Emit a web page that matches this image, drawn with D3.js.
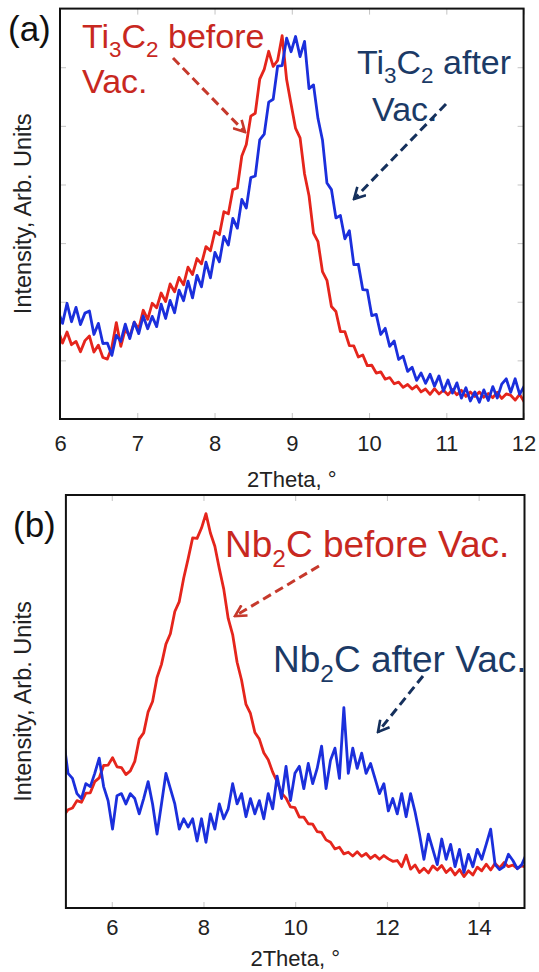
<!DOCTYPE html>
<html>
<head>
<meta charset="utf-8">
<script src="https://cdn.jsdelivr.net/npm/d3@7"></script>
<style>
  html, body { margin: 0; padding: 0; background: #fff; }
  svg { display: block; font-family: "Liberation Sans", Arial, sans-serif; }
</style>
</head>
<body>
<svg id="chart" width="539" height="972"></svg>
<script>
// (a) Ti3C2 scan, one point every 0.058 deg starting at 5.975
const thetaA = d3.range(105).map((i) => 5.975 + i * 0.058);
const ti3c2Before = [
  21.6, 18.5, 21.2, 18.1, 18.9, 16.4, 19.1, 20.2, 16.3, 18.0,
  15.0, 14.6, 17.5, 23.5, 17.7, 21.9, 20.1, 23.6, 21.9, 26.5,
  24.3, 28.2, 27.1, 30.7, 28.6, 32.9, 31.0, 34.5, 32.7, 37.0,
  35.2, 39.1, 37.8, 42.0, 41.0, 45.7, 44.9, 50.5, 50.0, 55.9,
  56.3, 64.1, 66.9, 73.8, 74.5, 82.8, 85.2, 89.6, 85.9, 87.4,
  93.4, 82.7, 76.7, 70.8, 68.5, 59.7, 54.4, 45.3, 43.2, 35.9,
  33.8, 27.4, 26.2, 21.3, 21.3, 17.9, 17.8, 15.1, 15.6, 13.0,
  13.1, 11.2, 11.5, 9.7, 10.1, 8.6, 9.0, 7.7, 8.4, 7.3,
  8.1, 6.6, 7.3, 6.0, 7.4, 6.1, 7.0, 5.9, 7.2, 5.9,
  7.0, 5.5, 6.6, 5.5, 6.6, 5.3, 6.2, 5.2, 6.5, 5.0,
  6.1, 5.8, 4.6, 6.0, 4.2,
];
const ti3c2After = [
  26.3, 23.3, 28.2, 23.7, 27.2, 23.0, 25.8, 26.3, 20.6, 23.3,
  18.4, 18.5, 15.5, 20.4, 18.9, 23.1, 19.6, 23.6, 20.8, 25.1,
  22.0, 25.0, 22.5, 28.0, 24.5, 28.9, 25.9, 31.4, 28.8, 33.6,
  29.5, 35.0, 32.2, 38.2, 34.4, 40.6, 38.3, 44.5, 42.4, 48.9,
  46.5, 53.5, 51.4, 58.8, 59.2, 68.0, 69.4, 77.2, 77.9, 86.0,
  86.1, 92.8, 89.5, 93.2, 88.3, 92.0, 80.5, 81.4, 73.2, 68.0,
  57.5, 55.9, 49.0, 49.6, 43.9, 45.9, 37.6, 37.7, 31.5, 31.4,
  25.2, 25.5, 20.6, 22.1, 17.7, 19.0, 14.5, 15.3, 11.6, 12.6,
  9.4, 11.2, 8.7, 10.9, 8.0, 10.5, 6.8, 9.5, 6.3, 8.8,
  5.1, 7.6, 4.4, 6.6, 4.1, 7.1, 4.5, 7.9, 5.1, 8.5,
  9.8, 6.5, 9.8, 6.0, 8.0,
];
const ticksA = [6, 7, 8, 9, 10, 11, 12];
const yTicksA = d3.range(1, 7).map((k) => (k * 100) / 7);

// (b) Nb2C scan, one point every 0.097 deg starting at 4.95
const thetaB = d3.range(105).map((i) => 4.95 + i * 0.097);
const nb2cBefore = [
  22.3, 23.8, 24.2, 26.0, 25.6, 27.8, 27.9, 30.6, 31.5, 34.5,
  34.6, 36.4, 34.2, 34.0, 32.3, 33.2, 35.5, 40.9, 42.4, 47.5,
  50.0, 55.8, 59.0, 63.9, 66.4, 71.8, 74.2, 79.9, 84.6, 89.6,
  89.5, 92.0, 95.5, 90.8, 87.6, 82.2, 77.2, 70.1, 66.2, 59.5,
  55.2, 49.3, 47.1, 42.5, 40.9, 37.6, 35.9, 32.9, 30.6, 27.8,
  26.6, 24.5, 24.3, 22.0, 22.0, 20.4, 20.3, 18.5, 18.3, 16.5,
  15.9, 14.3, 14.7, 13.1, 13.5, 12.6, 13.6, 12.5, 13.2, 12.0,
  12.8, 11.8, 12.7, 11.9, 11.3, 11.5, 10.0, 12.8, 9.4, 10.4,
  8.6, 9.6, 8.5, 10.2, 9.2, 10.3, 8.6, 9.6, 8.0, 9.3,
  7.6, 9.0, 8.0, 9.9, 9.0, 10.6, 9.2, 10.8, 9.7, 11.0,
  10.0, 10.4, 9.6, 10.2, 9.9,
];
const nb2cAfter = [
  40.7, 32.6, 31.4, 27.7, 26.5, 30.1, 29.4, 32.6, 36.3, 29.4,
  26.0, 19.1, 27.2, 27.7, 25.2, 27.7, 26.5, 22.8, 26.5, 30.6,
  25.2, 17.9, 25.2, 32.6, 28.9, 25.2, 19.1, 21.6, 19.6, 21.6,
  16.2, 21.6, 15.9, 22.8, 19.1, 25.2, 21.6, 24.0, 30.1, 25.2,
  27.7, 22.1, 26.5, 22.8, 26.0, 21.6, 27.7, 24.0, 31.9, 26.5,
  34.3, 26.0, 32.6, 34.3, 28.9, 35.0, 30.1, 33.8, 39.2, 28.9,
  35.8, 38.7, 31.4, 48.5, 32.6, 38.7, 33.8, 37.5, 32.6, 35.0,
  31.4, 27.7, 30.1, 23.5, 26.5, 22.8, 27.7, 22.1, 27.7, 23.3,
  17.9, 11.8, 17.9, 14.2, 10.5, 16.7, 11.8, 15.4, 10.0, 14.2,
  8.6, 13.0, 10.0, 14.2, 11.8, 15.4, 19.1, 10.5, 9.3, 10.0,
  13.0, 11.5, 9.5, 10.5, 13.0,
];
const ticksB = [6, 8, 10, 12, 14];

const RED = "#e5251c";
const BLUE = "#1b2fdc";
const RED_TEXT = "#c8281f";
const BLUE_TEXT = "#1b3a66";
const RED_ARROW = "#c6392c";
const BLUE_ARROW = "#15305c";
const TICK_GREY = "#c4c4c4";

const svg = d3.select("#chart");
const defs = svg.append("defs");

function arrowMarker(id, color) {
  defs
    .append("marker")
    .attr("id", id)
    .attr("viewBox", "0 0 14 14")
    .attr("markerUnits", "userSpaceOnUse")
    .attr("markerWidth", 14)
    .attr("markerHeight", 14)
    .attr("refX", 12)
    .attr("refY", 7)
    .attr("orient", "auto")
    .append("path")
    .attr("d", "M1,1 L12,7 L1,13")
    .attr("fill", "none")
    .attr("stroke", color)
    .attr("stroke-width", 2.6);
}
arrowMarker("head-red", RED_ARROW);
arrowMarker("head-blue", BLUE_ARROW);

// text with chemical subscripts, parts: [text, isSub]
function formula(g, x, y, parts, size, color) {
  const t = g
    .append("text")
    .attr("x", x)
    .attr("y", y)
    .attr("font-size", size)
    .attr("fill", color);
  const shift = size * 0.26;
  let offset = 0; // current baseline offset, undone on the next part
  parts.forEach(([s, sub]) => {
    const target = sub ? shift : 0;
    t.append("tspan")
      .attr("dy", target - offset)
      .attr("font-size", sub ? size * 0.66 : size)
      .text(s);
    offset = target;
  });
  return t;
}

function greyTicks(a) {
  a.select(".domain").remove();
  a.selectAll("line").attr("stroke", TICK_GREY);
}

function drawPanel(p) {
  const x = d3.scaleLinear().domain(p.xDomain).range([p.left, p.right]);
  const y = d3.scaleLinear().domain([0, 100]).range([p.bottom, p.top]);
  const g = svg.append("g");

  defs
    .append("clipPath")
    .attr("id", "clip-" + p.id)
    .append("rect")
    .attr("x", p.left)
    .attr("y", p.top)
    .attr("width", p.right - p.left)
    .attr("height", p.bottom - p.top);

  // inward ticks, light grey
  g.append("g")
    .attr("transform", `translate(0,${p.bottom})`)
    .call(
      d3.axisBottom(x)
        .tickValues(p.xTicks)
        .tickSize(-6)
        .tickPadding(p.tickPad)
        .tickFormat(d3.format("d")),
    )
    .call(greyTicks)
    .call((a) =>
      a.selectAll("text")
        .attr("font-size", 22)
        .attr("font-family", "Liberation Sans, Arial, sans-serif")
        .attr("fill", "#222"),
    );

  g.append("g")
    .attr("transform", `translate(0,${p.top})`)
    .call(d3.axisTop(x).tickValues(p.xTicks).tickSize(-6).tickFormat(""))
    .call(greyTicks);

  if (p.yTicks.length) {
    g.append("g")
      .attr("transform", `translate(${p.left},0)`)
      .call(d3.axisLeft(y).tickValues(p.yTicks).tickSize(-6).tickFormat(""))
      .call(greyTicks);
    g.append("g")
      .attr("transform", `translate(${p.right},0)`)
      .call(d3.axisRight(y).tickValues(p.yTicks).tickSize(-6).tickFormat(""))
      .call(greyTicks);
  }

  const line = d3
    .line()
    .x((d) => x(d[0]))
    .y((d) => y(d[1]));

  const plot = g.append("g").attr("clip-path", `url(#clip-${p.id})`);
  p.series.forEach((s) => {
    plot
      .append("path")
      .datum(d3.zip(p.theta, s.values))
      .attr("fill", "none")
      .attr("stroke", s.color)
      .attr("stroke-width", 2.8)
      .attr("stroke-linejoin", "round")
      .attr("d", line);
  });

  g.append("rect")
    .attr("x", p.left)
    .attr("y", p.top)
    .attr("width", p.right - p.left)
    .attr("height", p.bottom - p.top)
    .attr("fill", "none")
    .attr("stroke", "#111")
    .attr("stroke-width", 2);

  g.append("text")
    .attr("x", (p.left + p.right) / 2)
    .attr("y", p.titleY)
    .attr("text-anchor", "middle")
    .attr("font-size", 22)
    .attr("fill", "#222")
    .text("2Theta, \u00b0");

  g.append("text")
    .attr("transform", `translate(31,${(p.top + p.bottom) / 2}) rotate(-90)`)
    .attr("text-anchor", "middle")
    .attr("font-size", 23.5)
    .attr("fill", "#222")
    .text("Intensity, Arb. Units");

  g.append("text")
    .attr("x", p.tag.x)
    .attr("y", p.tag.y)
    .attr("font-size", 35)
    .attr("fill", "#111")
    .text(p.tag.text);

  p.notes.forEach((n) => formula(g, n.x, n.y, n.parts, p.noteSize, n.color));

  p.arrows.forEach((a) => {
    g.append("line")
      .attr("x1", a.from[0])
      .attr("y1", a.from[1])
      .attr("x2", a.to[0])
      .attr("y2", a.to[1])
      .attr("stroke", a.color)
      .attr("stroke-width", 3)
      .attr("stroke-dasharray", "9,5")
      .attr("marker-end", `url(#${a.head})`);
  });
}

drawPanel({
  id: "a",
  left: 60, right: 523.6, top: 8.6, bottom: 419,
  xDomain: [6, 12], xTicks: ticksA, yTicks: yTicksA,
  tickPad: 16, titleY: 487,
  theta: thetaA,
  series: [
    { values: ti3c2Before, color: RED },
    { values: ti3c2After, color: BLUE },
  ],
  tag: { text: "(a)", x: 8, y: 41 },
  noteSize: 34,
  notes: [
    { x: 82, y: 48, color: RED_TEXT, parts: [["Ti"], ["3", true], ["C"], ["2", true], [" before"]] },
    { x: 82, y: 93, color: RED_TEXT, parts: [["Vac."]] },
    { x: 357, y: 74, color: BLUE_TEXT, parts: [["Ti"], ["3", true], ["C"], ["2", true], [" after"]] },
    { x: 372, y: 121, color: BLUE_TEXT, parts: [["Vac."]] },
  ],
  arrows: [
    { from: [173, 58], to: [245, 132], color: RED_ARROW, head: "head-red" },
    { from: [446, 104], to: [354, 199], color: BLUE_ARROW, head: "head-blue" },
  ],
});

drawPanel({
  id: "b",
  left: 65.9, right: 524.5, top: 495, bottom: 908,
  xDomain: [5, 15], xTicks: ticksB, yTicks: [],
  tickPad: 11, titleY: 966,
  theta: thetaB,
  series: [
    { values: nb2cBefore, color: RED },
    { values: nb2cAfter, color: BLUE },
  ],
  tag: { text: "(b)", x: 13, y: 537 },
  noteSize: 37,
  notes: [
    { x: 225, y: 557, color: RED_TEXT, parts: [["Nb"], ["2", true], ["C before Vac."]] },
    { x: 273, y: 672, color: BLUE_TEXT, parts: [["Nb"], ["2", true], ["C after Vac."]] },
  ],
  arrows: [
    { from: [319, 566], to: [235, 616], color: RED_ARROW, head: "head-red" },
    { from: [423, 676], to: [378, 732], color: BLUE_ARROW, head: "head-blue" },
  ],
});
</script>
</body>
</html>
